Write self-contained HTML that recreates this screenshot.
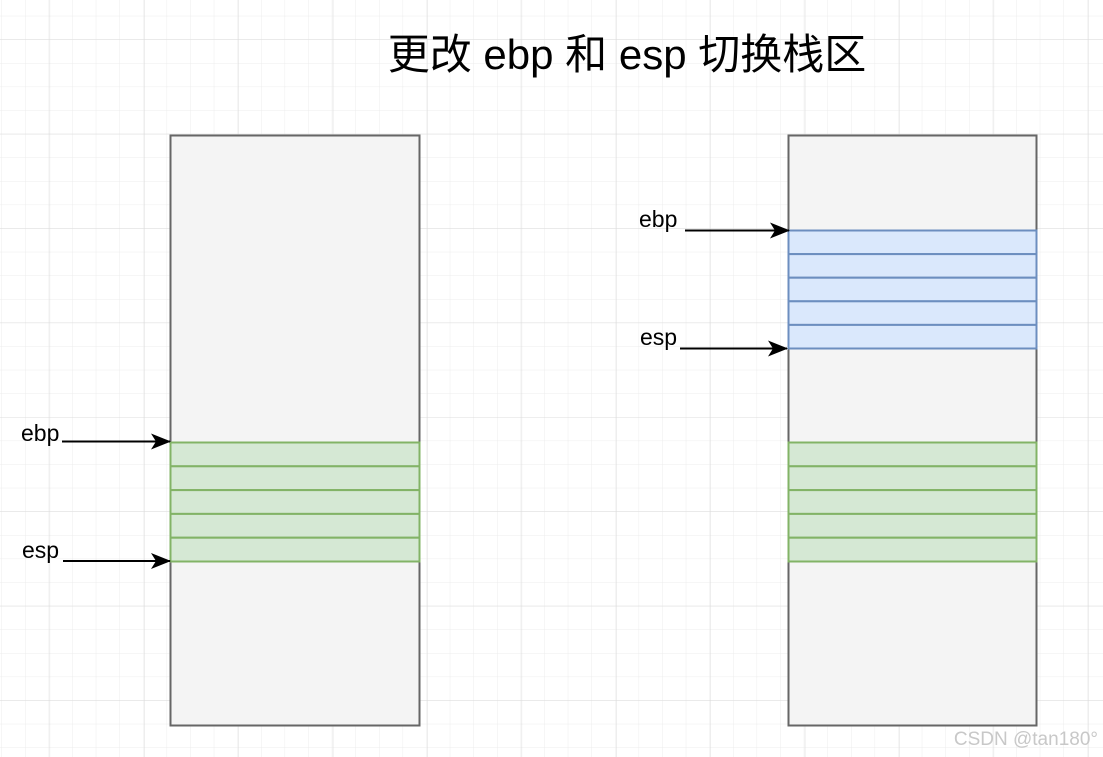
<!DOCTYPE html>
<html><head><meta charset="utf-8"><style>
html,body{margin:0;padding:0;background:#fff;}
svg{display:block;}
</style></head><body>
<svg width="1103" height="757" viewBox="0 0 1103 757" xmlns="http://www.w3.org/2000/svg">
<defs>
<pattern id="g" width="23.6" height="23.6" patternUnits="userSpaceOnUse" patternTransform="translate(1.4,15.8)">
<path d="M0 0H23.6M0 0V23.6" stroke="#ececec" stroke-width="1" fill="none"/>
</pattern>
<pattern id="G" width="94.4" height="94.4" patternUnits="userSpaceOnUse" patternTransform="translate(49.6,39.4)">
<path d="M0 0H94.4M0 0V94.4" stroke="#dcdcdc" stroke-width="1" fill="none"/>
</pattern>
<marker id="a" markerWidth="20" markerHeight="18" refX="19" refY="9" orient="auto" markerUnits="userSpaceOnUse" viewBox="0 0 20 18">
<path d="M0 1L20 9L0 17L5 9Z" fill="#000"/>
</marker>
</defs>
<rect width="1103" height="757" fill="#fff"/>
<rect width="1103" height="757" fill="url(#g)"/>
<rect width="1103" height="757" fill="url(#G)"/>
<text x="627" y="69" text-anchor="middle" font-family="Liberation Sans, Noto Sans CJK SC, sans-serif" font-size="42" fill="#000">更改 ebp 和 esp 切换栈区</text>

<rect x="170.5" y="135.5" width="249" height="590" fill="#f4f4f4" stroke="#666" stroke-width="2"/>
<g fill="#d5e8d4" stroke="#82b366" stroke-width="2">
<rect x="170.5" y="442.5" width="249" height="23.8"/>
<rect x="170.5" y="466.3" width="249" height="23.8"/>
<rect x="170.5" y="490.1" width="249" height="23.8"/>
<rect x="170.5" y="513.9" width="249" height="23.8"/>
<rect x="170.5" y="537.7" width="249" height="23.8"/>
</g>

<rect x="788.5" y="135.5" width="248" height="590" fill="#f4f4f4" stroke="#666" stroke-width="2"/>
<g fill="#dae8fc" stroke="#6c8ebf" stroke-width="2">
<rect x="788.5" y="230.5" width="248" height="23.6"/>
<rect x="788.5" y="254.1" width="248" height="23.6"/>
<rect x="788.5" y="277.7" width="248" height="23.6"/>
<rect x="788.5" y="301.3" width="248" height="23.6"/>
<rect x="788.5" y="324.9" width="248" height="23.6"/>
</g>
<g fill="#d5e8d4" stroke="#82b366" stroke-width="2">
<rect x="788.5" y="442.5" width="248" height="23.8"/>
<rect x="788.5" y="466.3" width="248" height="23.8"/>
<rect x="788.5" y="490.1" width="248" height="23.8"/>
<rect x="788.5" y="513.9" width="248" height="23.8"/>
<rect x="788.5" y="537.7" width="248" height="23.8"/>
</g>

<g stroke="#000" stroke-width="2" marker-end="url(#a)">
<line x1="62" y1="441.5" x2="170" y2="441.5"/>
<line x1="63" y1="561" x2="170" y2="561"/>
<line x1="685" y1="230.5" x2="789" y2="230.5"/>
<line x1="680" y1="348.5" x2="787" y2="348.5"/>
</g>
<g font-family="Liberation Sans, sans-serif" font-size="23" fill="#000">
<text x="21" y="441">ebp</text>
<text x="22" y="558">esp</text>
<text x="639" y="227">ebp</text>
<text x="640" y="345">esp</text>
</g>
<text x="1098" y="745" text-anchor="end" font-family="Liberation Sans, sans-serif" font-size="19" fill="#c8c8c8">CSDN @tan180°</text>
</svg>
</body></html>
